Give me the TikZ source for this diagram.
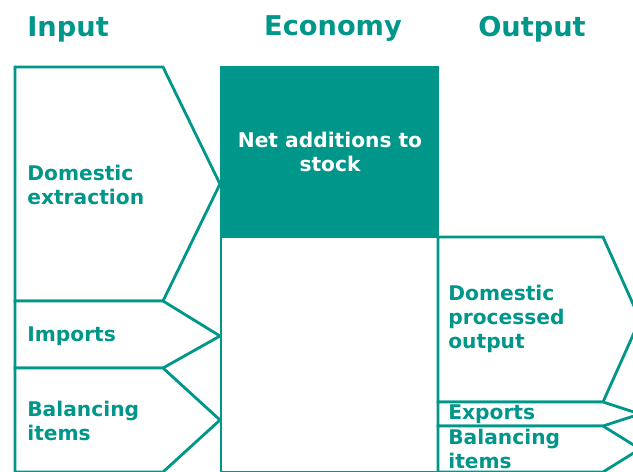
\documentclass[tikz,border=0pt]{standalone}
\usepackage{fontspec}
\setmainfont{DejaVu Sans}
\usetikzlibrary{backgrounds}
\definecolor{ecoteal}{RGB}{0,150,138}
\tikzstyle{msa}=[x=0.02cm, y=-0.02cm, line join=miter]
\tikzstyle{head}=[inner sep=0pt, text=ecoteal, font=\fontsize{15.5}{18}\selectfont\bfseries]
\tikzstyle{lbl}=[inner sep=0pt, anchor=west, align=left, text=ecoteal, font=\fontsize{11.5}{13.8}\selectfont\bfseries]
\tikzstyle{flow}=[draw=ecoteal, line width=1.6pt, fill=white]
\tikzstyle{stock}=[draw=ecoteal, line width=1.6pt, fill=ecoteal]
\newcommand{\leftX}{15}
\newcommand{\neckX}{163}
\newcommand{\tipX}{220}
\newcommand{\ecoR}{438}
\newcommand{\outNeck}{603}
\newcommand{\outTip}{640}
\newcommand{\botY}{472}

\begin{document}
\begin{tikzpicture}[msa]
	\useasboundingbox (0,0) rectangle (633,471);
	%% headers
	\node[head, anchor=west] (hin) at (27,29) {Input};
	\node[head] (heco) at (333,29) {Economy};
	\node[head] (hout) at (532,29) {Output};
	%%%%%% input side
	\draw[flow] (\leftX,67) -- (\neckX,67) -- (\tipX,184) -- (\neckX,301) -- (\leftX,301) -- cycle;
	\draw[flow] (\leftX,301) -- (\neckX,301) -- (\tipX,336) -- (\neckX,368) -- (\leftX,368) -- cycle;
	\draw[flow] (\leftX,368) -- (\neckX,368) -- (\tipX,420) -- (\neckX,\botY) -- (\leftX,\botY) -- cycle;
	\node[lbl] (dex) at (27,185) {Domestic\\extraction};
	\node[lbl] (imp) at (27,336) {Imports};
	\node[lbl] (bin) at (27,421) {Balancing\\items};
	%%%%%% economy
	\draw[stock] (221,67) rectangle (\ecoR,237);
	\draw[flow] (221,237) rectangle (\ecoR,\botY);
	\node[lbl, anchor=center, align=center, text=white] (nas) at (330,152) {Net additions to\\stock};
	%%%%%% output side
	\draw[flow] (\ecoR,237) -- (\outNeck,237) -- (\outTip,319.5) -- (\outNeck,402) -- (\ecoR,402) -- cycle;
	\draw[flow] (\ecoR,402) -- (\outNeck,402) -- (\outTip,414) -- (\outNeck,426) -- (\ecoR,426) -- cycle;
	\draw[flow] (\ecoR,426) -- (\outNeck,426) -- (\outTip,449) -- (\outNeck,\botY) -- (\ecoR,\botY) -- cycle;
	\node[lbl] (dpo) at (448,319) {Domestic\\processed\\output};
	\node[lbl] (exp) at (448,414) {Exports};
	\node[lbl] (bout) at (448,449) {Balancing\\items};
\end{tikzpicture}
\end{document}
